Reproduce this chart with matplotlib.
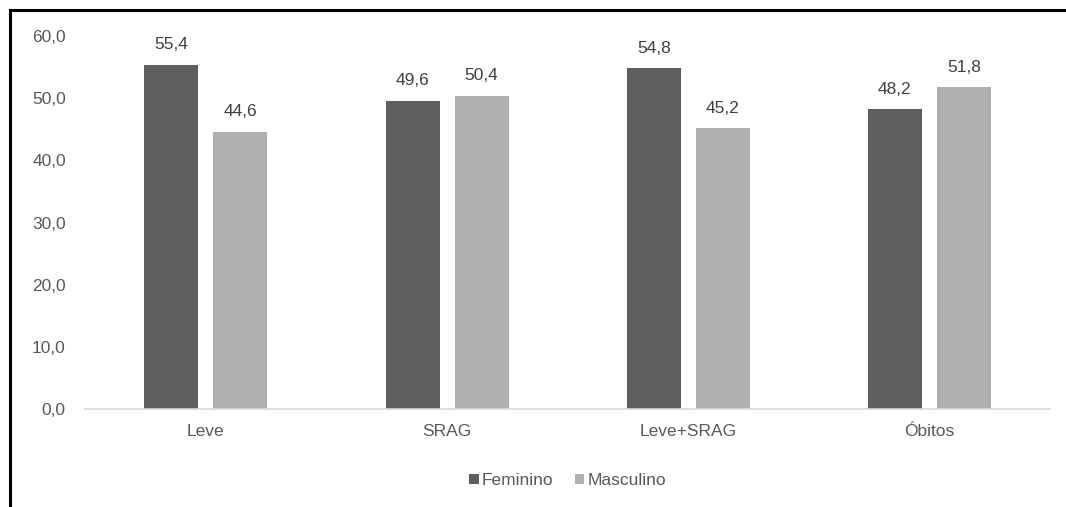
import matplotlib
matplotlib.use("Agg")
import matplotlib.pyplot as plt
from matplotlib.lines import Line2D
import numpy as np

plt.rcParams["font.family"] = ["Liberation Sans", "DejaVu Sans"]

# ── Data ──────────────────────────────────────────────────────
categories = ["Leve", "SRAG", "Leve+SRAG", "Óbitos"]
feminino = [55.4, 49.6, 54.8, 48.2]
masculino = [44.6, 50.4, 45.2, 51.8]
series_names = ["Feminino", "Masculino"]
yticks = [0, 10, 20, 30, 40, 50, 60]

DARK = "#5e5e5e"
LIGHT = "#b0b0b0"
TEXT = "#595959"
FS = 12.5

fig = plt.figure(figsize=(10.66, 5.07), dpi=100)
ax = fig.add_axes([0.08, 0.193, 0.905, 0.736])

x = np.arange(len(categories))
w = 0.224
off = 0.143
b1 = ax.bar(x - off, feminino, w, color=DARK, label=series_names[0])
b2 = ax.bar(x + off, masculino, w, color=LIGHT, label=series_names[1])

for bars, vals in ((b1, feminino), (b2, masculino)):
    for r, v in zip(bars, vals):
        ax.text(r.get_x() + r.get_width() / 2, v + 2.0, f"{v:.1f}".replace(".", ","),
                ha="center", va="bottom", fontsize=FS, color="#404040")

ax.set_xlim(-0.5, len(categories) - 0.5)
ax.set_ylim(0, 60)
ax.set_yticks(yticks)
ax.set_yticklabels([f"{t:.1f}".replace(".", ",") for t in yticks])
ax.set_xticks(x)
ax.set_xticklabels(categories)
ax.tick_params(axis="both", length=0, labelsize=FS, colors=TEXT)
ax.tick_params(axis="y", pad=14)
ax.tick_params(axis="x", pad=11)

for side in ("top", "right", "left"):
    ax.spines[side].set_visible(False)
ax.spines["bottom"].set_color("#d9d9d9")
ax.spines["bottom"].set_linewidth(1.2)

leg = ax.legend(loc="upper center", bbox_to_anchor=(0.5, -0.13), ncol=2,
                frameon=False, fontsize=FS, handlelength=0.55, handleheight=0.55,
                handletextpad=0.2, columnspacing=1.2)
for t in leg.get_texts():
    t.set_color(TEXT)

# frame lines on the left and top edges
fig.add_artist(Line2D([0.0094, 0.0094], [0, 0.98], transform=fig.transFigure,
                      color="black", linewidth=2.2))
fig.add_artist(Line2D([0.0094, 1.0], [0.98, 0.98], transform=fig.transFigure,
                      color="black", linewidth=2.2))

fig.savefig("out.png", dpi=100, facecolor="white")
